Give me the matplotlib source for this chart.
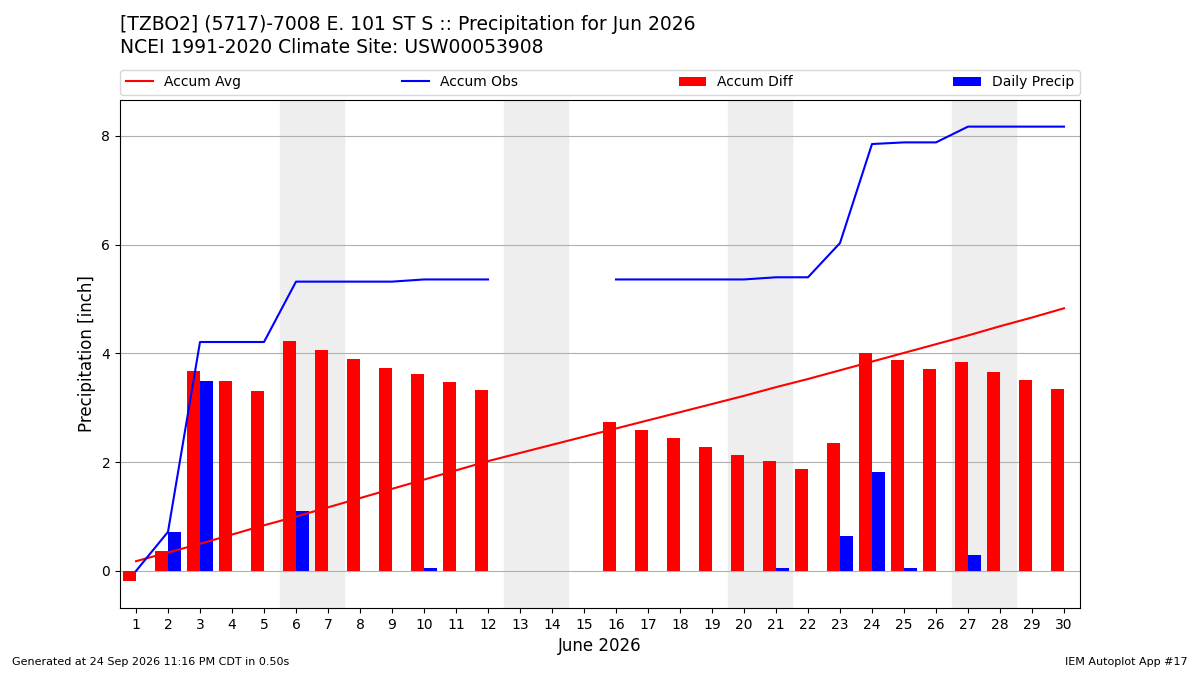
import matplotlib
matplotlib.use("Agg")
import matplotlib.pyplot as plt
import numpy as np

days = list(range(1, 31))
accum_avg = [0.18,0.34,0.50,0.67,0.84,1.00,1.17,1.34,1.51,1.68,1.85,2.02,2.17,2.32,2.47,2.62,2.77,2.92,3.07,3.22,3.38,3.53,3.69,3.85,4.01,4.17,4.33,4.50,4.66,4.83]
accum_obs = [0.0,0.72,4.21,4.21,4.21,5.32,5.32,5.32,5.32,5.36,5.36,5.36,np.nan,np.nan,np.nan,5.36,5.36,5.36,5.36,5.36,5.40,5.40,6.03,7.85,7.88,7.88,8.17,8.17,8.17,8.17]
accum_diff = [-0.18,0.36,3.67,3.49,3.31,4.22,4.06,3.90,3.74,3.62,3.47,3.32,np.nan,np.nan,np.nan,2.74,2.59,2.44,2.28,2.13,2.02,1.87,2.35,4.00,3.88,3.71,3.84,3.66,3.51,3.35]
daily = [0,0.72,3.50,0,0,1.10,0,0,0,0.05,0,0,np.nan,np.nan,np.nan,0,0,0,0,0,0.05,0,0.64,1.82,0.05,0,0.30,0,0,0]
weekends = [6, 13, 20, 27]

fig = plt.figure(figsize=(12, 6.75), dpi=100)
ax = fig.add_axes([0.1, 0.0993, 0.8, 0.7526])
for w in weekends:
    ax.axvspan(w - 0.5, w + 1.5, color="#eeeeee", zorder=0)
d = np.array(days)
ax.plot(d, accum_avg, color="red", label="Accum Avg", zorder=3)
ax.plot(d, accum_obs, color="blue", label="Accum Obs", zorder=3)
ax.bar(d - 0.2, accum_diff, width=0.4, color="red", label="Accum Diff", zorder=2)
ax.bar(d + 0.2, daily, width=0.4, color="blue", label="Daily Precip", zorder=2)
ax.set_xlim(0.5, 30.5)
ax.set_ylim(-0.68, 8.66)
ax.set_xticks(days)
ax.set_yticks([0, 2, 4, 6, 8])
ax.yaxis.grid(True, color="#b0b0b0")
ax.set_axisbelow(True)
ax.set_xlabel("June 2026", fontsize=12)
ax.set_ylabel("Precipitation [inch]", fontsize=12)
ax.legend(loc="lower left", bbox_to_anchor=(0, 1.01, 1, 0.05), mode="expand",
          ncol=4, borderaxespad=0)
fig.text(0.1, 0.963, "[TZBO2] (5717)-7008 E. 101 ST S :: Precipitation for Jun 2026", fontsize=13.5, va="center")
fig.text(0.1, 0.93, "NCEI 1991-2020 Climate Site: USW00053908", fontsize=13.5, va="center")
fig.text(0.01, 0.015, "Generated at 24 Sep 2026 11:16 PM CDT in 0.50s", fontsize=8)
fig.text(0.99, 0.015, "IEM Autoplot App #17", fontsize=8, ha="right")
fig.savefig("out.png")
